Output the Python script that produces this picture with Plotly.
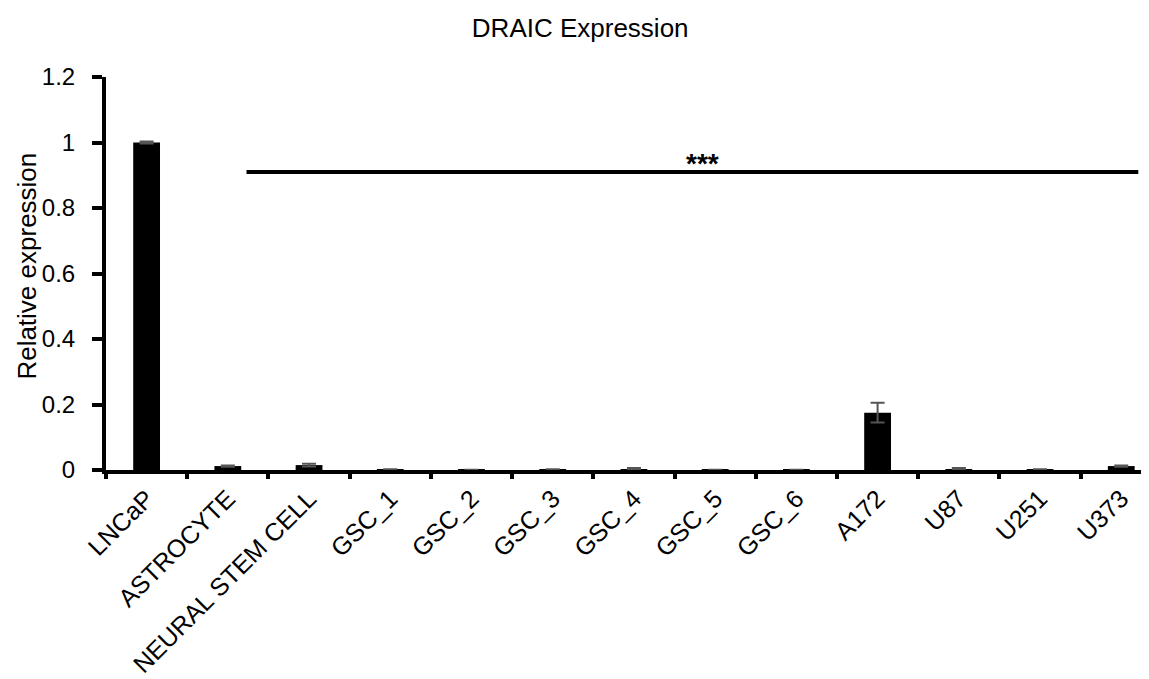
import plotly.graph_objects as go

categories = ["LNCaP", "ASTROCYTE", "NEURAL STEM CELL", "GSC_1", "GSC_2", "GSC_3",
              "GSC_4", "GSC_5", "GSC_6", "A172", "U87", "U251", "U373"]
values = [1.0, 0.012, 0.015, 0.002, 0.001, 0.002, 0.003, 0.001, 0.001, 0.175, 0.003, 0.002, 0.012]
errors = [0.003, 0.002, 0.004, 0.0, 0.0, 0.0, 0.003, 0.0, 0.0, 0.03, 0.003, 0.0, 0.002]
y_ticks = [0, 0.2, 0.4, 0.6, 0.8, 1.0, 1.2]
y_tick_labels = ["0", "0.2", "0.4", "0.6", "0.8", "1", "1.2"]
sig_start, sig_end, sig_y = 1.23, 12.21, 0.91
sig_label = "***"

FONT = "Liberation Sans, Arial, sans-serif"

fig = go.Figure()
fig.add_trace(go.Bar(
    x=list(range(len(categories))), y=values,
    marker=dict(color="black", line=dict(width=0)),
    width=0.33,
    error_y=dict(type="data", array=errors, visible=True, color="#555555", thickness=2, width=7),
))

fig.add_shape(type="line", xref="x", yref="y", x0=sig_start, x1=sig_end, y0=sig_y, y1=sig_y,
              line=dict(color="black", width=4))
fig.add_annotation(x=(sig_start + sig_end) / 2 + 0.12, y=sig_y + 0.025, xref="x", yref="y",
                   text="<b>" + sig_label + "</b>", showarrow=False, yanchor="middle",
                   font=dict(size=28, color="black", family=FONT))
fig.add_annotation(x=-0.0752, y=0.52, xref="paper", yref="paper", text="Relative expression",
                   textangle=-90, showarrow=False, xanchor="center", yanchor="middle",
                   font=dict(size=26, color="black", family=FONT))

fig.update_layout(
    width=1149, height=679,
    margin=dict(l=98, r=0, t=69, b=217, autoexpand=False),
    paper_bgcolor="white", plot_bgcolor="white",
    title=dict(text="DRAIC Expression", x=0.498, xanchor="center", y=0.97, yanchor="middle",
               font=dict(size=26, color="black", family=FONT)),
    font=dict(family=FONT, color="black"),
    showlegend=False,
)
fig.update_xaxes(
    tickmode="array", tickvals=list(range(len(categories))), ticktext=categories,
    range=[-0.5, 12.44], tickangle=-45, tickfont=dict(size=25, family=FONT, color="black"),
    showline=True, linecolor="black", linewidth=4, automargin=False,
    ticks="", showgrid=False, zeroline=False,
)
# boundary ticks drawn by a secondary overlaying axis at category edges
fig.update_layout(xaxis2=dict(
    overlaying="x", matches="x", side="bottom", anchor="y",
    tickmode="array", tickvals=[i - 0.5 for i in range(len(categories) + 1)],
    showticklabels=False, ticks="outside", ticklen=8, tickwidth=4, tickcolor="black",
    showline=False, showgrid=False, zeroline=False, automargin=False,
))
fig.add_trace(go.Scatter(x=[0], y=[0], xaxis="x2", yaxis="y", mode="markers",
                         marker=dict(opacity=0), hoverinfo="skip", showlegend=False))
fig.update_yaxes(
    range=[0, 1.2], tickmode="array", tickvals=y_ticks, ticktext=y_tick_labels,
    tickfont=dict(size=24, family=FONT, color="black"),
    showline=True, linecolor="black", linewidth=4, automargin=False,
    ticks="outside", ticklen=10, tickwidth=4, tickcolor="black", ticklabelstandoff=12,
    showgrid=False, zeroline=False,
)

fig.write_html("out.html")
